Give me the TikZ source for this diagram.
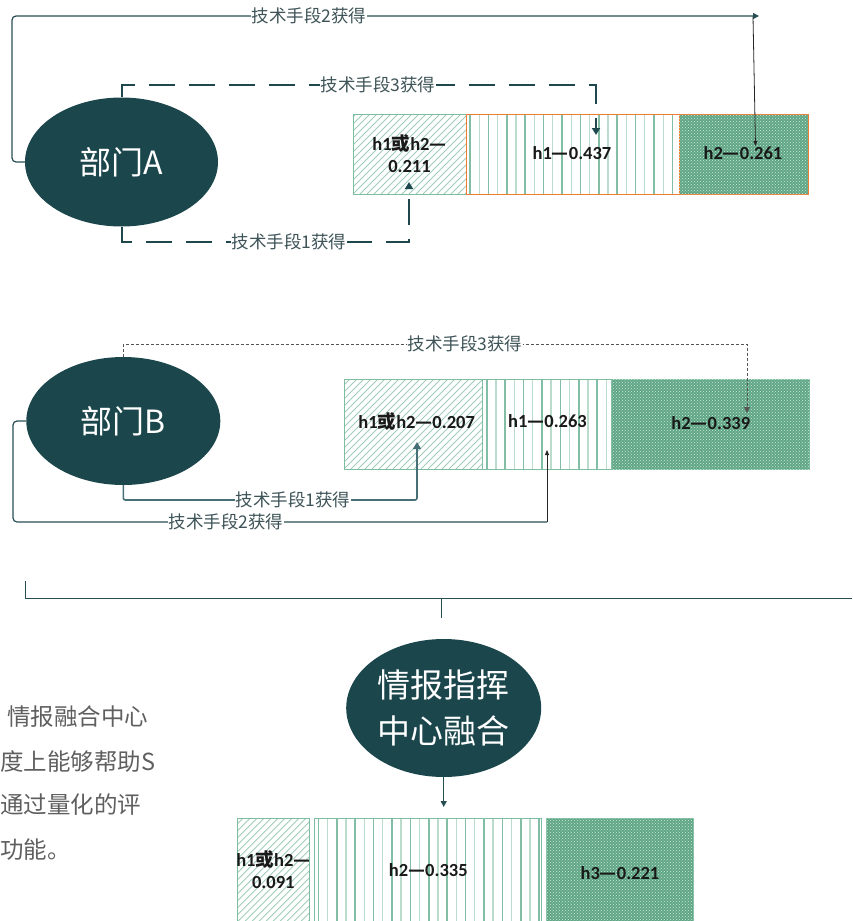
\documentclass[tikz,border=0pt]{standalone}
\usepackage{fontspec}
\setmainfont{Carlito}
\newfontfamily\cjk{Noto Sans CJK SC}
\usetikzlibrary{shapes.geometric,arrows.meta,patterns}
\definecolor{ellc}{RGB}{27,71,76}
\definecolor{ln2c}{RGB}{38,78,84}
\definecolor{dashc}{RGB}{30,72,78}
\definecolor{greyd}{RGB}{85,85,85}
\definecolor{lnBc}{RGB}{70,112,118}
\definecolor{lblc}{RGB}{62,84,88}
\definecolor{gbord}{RGB}{125,190,160}
\definecolor{hatchc}{RGB}{160,205,185}
\definecolor{orng}{RGB}{237,125,49}
\definecolor{stripeA}{RGB}{130,190,165}
\definecolor{stripeB}{RGB}{185,220,204}
\definecolor{dotg}{RGB}{96,166,134}
\definecolor{dotw}{RGB}{205,232,218}
\definecolor{paratext}{RGB}{95,95,95}
\newcommand\hor{{\cjk 或}}
\newcommand\dsh{{\cjk —}}
\begin{document}
\begin{tikzpicture}[x=1pt,y=-1pt,
  ell/.style={ellipse, fill=ellc, draw=none, inner sep=0pt, text=white,
    font={\cjk\fontsize{32}{38}\selectfont}},
  lbl/.style={fill=white, inner sep=1pt, text=lblc,
    font={\cjk\fontsize{17.5}{20}\selectfont}},
  bartxt/.style={inner sep=0pt, text=black!90, align=center,
    font={\fontsize{18.5}{22}\selectfont\bfseries}},
  para/.style={anchor=west, inner sep=0pt, text=paratext,
    font={\cjk\fontsize{23.5}{26}\selectfont}},
  hatchbox/.style={draw=#1, line width=1pt, inner sep=0pt,
    path picture={\foreach \k in {-18,...,24}{\draw[hatchc,line width=0.8pt]
      ([xshift=\k*7pt]path picture bounding box.south west) -- ++(130pt,130pt);}}},
  stripebox/.style={draw=#1, line width=1pt, inner sep=0pt,
    path picture={\foreach \k in {0,...,13}{
      \pgfmathsetmacro\xa{4+\k*18.4}
      \pgfmathsetmacro\xb{13.2+\k*18.4}
      \draw[stripeA,line width=1.6pt]
        ([xshift=\xa pt]path picture bounding box.south west) -- ([xshift=\xa pt]path picture bounding box.north west);
      \draw[stripeB,line width=1.3pt]
        ([xshift=\xb pt]path picture bounding box.south west) -- ([xshift=\xb pt]path picture bounding box.north west);}}},
  dotbox/.style={draw=#1, line width=1pt, inner sep=0pt, fill=dotg,
    postaction={pattern=crosshatch dots, pattern color=dotw}},
  lnsolid/.style={draw=ln2c, line width=1.2pt},
  dashA/.style={draw=dashc, line width=2pt, dash pattern=on 26pt off 14pt},
  dashB/.style={draw=greyd, line width=1pt, dash pattern=on 3pt off 2pt},
  lnB/.style={draw=lnBc, line width=1.6pt},
  blackln/.style={draw=black!85, line width=0.8pt},
  brk/.style={draw=ln2c, line width=1pt},
  bigtip/.tip={Triangle[width=8pt,length=7pt]},
  smalltip/.tip={Triangle[width=6pt,length=6pt]},
  tinytip/.tip={Triangle[width=4pt,length=5pt]}
]
\useasboundingbox (0,0) rectangle (852,921);
\clip (0,0) rectangle (852,921);

% ---------------- Part A ----------------
\node[hatchbox=gbord, minimum width=113pt, minimum height=80pt] (a1) at (409.5,154) {};
\node[stripebox=orng, minimum width=213pt, minimum height=80pt] (a2) at (572.5,154) {};
\node[dotbox=orng, minimum width=129pt, minimum height=80pt] (a3) at (743.5,154) {};
\node[ell, minimum width=193pt, minimum height=129pt] (A) at (121.5,162) {部门A};

\coordinate (A2e) at (759,16);
\coordinate (A2s) at (753,16.5);
\coordinate (A2t) at (755.5,146);
\coordinate (A3t) at (596,135);
\coordinate (A1t) at (409,182);
\draw[lnsolid, -smalltip, rounded corners=4pt] (A.west) -- (12,162) -- (12,16) -- (A2e);
\draw[blackln, -tinytip] (A2s) -- (A2t);
\draw[dashA, -bigtip] (A.north) -- (121.5,85) -- (596,85) -- (A3t);
\draw[dashA, -bigtip] (A.south) -- (121.5,242) -- (409,242) -- (A1t);

\node[lbl] (l2A) at (309,16) {技术手段2获得};
\node[lbl] (l3A) at (378,85) {技术手段3获得};
\node[lbl] (l1A) at (289,242) {技术手段1获得};

\node[bartxt] (ta1) at (409.5,154) {h1\hor h2\dsh\\0.211};
\node[bartxt] (ta2) at (572,153) {h1\dsh 0.437};
\node[bartxt] (ta3) at (743,153) {h2\dsh 0.261};

% ---------------- Part B ----------------
\node[hatchbox=gbord, minimum width=138.7pt, minimum height=90pt] (b1) at (413.35,424) {};
\node[stripebox=gbord, minimum width=129pt, minimum height=90pt] (b2) at (547.2,424) {};
\node[dotbox=gbord, minimum width=197.3pt, minimum height=90pt] (b3) at (710.35,424) {};
\node[ell, minimum width=194pt, minimum height=128pt] (B) at (123.3,421) {部门B};

\coordinate (B3t) at (747,413);
\coordinate (B1t) at (417,442);
\coordinate (B2c) at (547,522);
\coordinate (B2t) at (547,450);
\draw[dashB, -smalltip] (B.north) -- (123.3,344) -- (747,344) -- (B3t);
\draw[lnB, -bigtip, rounded corners=2pt] (B.south) -- (123.3,500) -- (417,500) -- (B1t);
\draw[lnsolid, rounded corners=4pt] (B.west) -- (13,421) -- (13,522) -- (B2c);
\draw[blackln, -tinytip] (B2c) -- (B2t);

\node[lbl] (l3B) at (465,344) {技术手段3获得};
\node[lbl] (l1B) at (293,500) {技术手段1获得};
\node[lbl] (l2B) at (226,522) {技术手段2获得};

\node[bartxt] (tb1) at (416.7,421.7) {h1\hor h2\dsh 0.207};
\node[bartxt] (tb2) at (547.5,421) {h1\dsh 0.263};
\node[bartxt] (tb3) at (710.8,423) {h2\dsh 0.339};

% ---------------- Part C ----------------
\coordinate (br1) at (25,581);
\coordinate (br2) at (852,598);
\coordinate (tk1) at (441.8,598);
\coordinate (tk2) at (441.8,618);
\draw[brk] (br1) |- (br2);
\draw[brk] (tk1) -- (tk2);

\node[ell, minimum width=195pt, minimum height=138pt, align=center,
  font={\cjk\fontsize{33}{46}\selectfont}] (C) at (443.7,708) {情报指挥\\中心融合};
\coordinate (Ct) at (443.7,807);
\draw[lnsolid, -smalltip] (C.south) -- (Ct);

\node[hatchbox=gbord, minimum width=72pt, minimum height=104pt] (c1) at (273.3,870) {};
\node[stripebox=gbord, minimum width=227.4pt, minimum height=104pt] (c2) at (428,870) {};
\node[dotbox=gbord, minimum width=147.3pt, minimum height=104pt] (c3) at (619.65,870) {};

\node[bartxt] (tc1) at (273.3,869.7) {h1\hor h2\dsh\\0.091};
\node[bartxt] (tc2) at (428.3,870) {h2\dsh 0.335};
\node[bartxt] (tc3) at (620,872.7) {h3\dsh 0.221};

% ---------------- Paragraph ----------------
\node[para] (p1) at (7,717) {情报融合中心};
\node[para] (p2) at (0,762) {度上能够帮助S};
\node[para] (p3) at (0,805) {通过量化的评};
\node[para] (p4) at (0,850) {功能。};
\end{tikzpicture}
\end{document}
